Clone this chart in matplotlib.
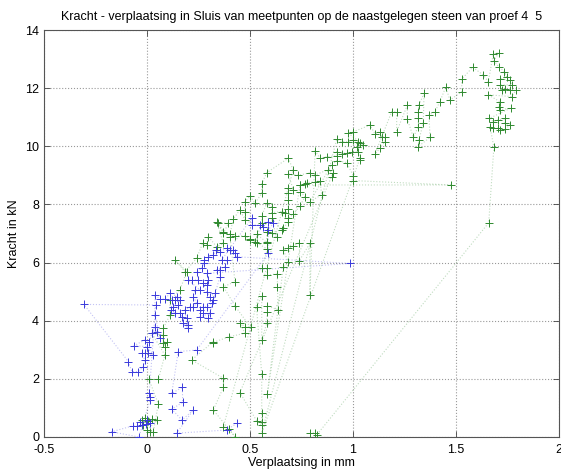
import matplotlib
matplotlib.use("Agg")
import matplotlib.pyplot as plt

# Green series (meetpunt 4) in measurement order: displacement (mm), force (kN)
green_x = [
    -0.018, -0.026, -0.01, 0.006, 0.023, 0.05, 0.0, 0.015, 0.031, 0.055, 0.01, 0.055, 0.087, 0.023, 0.079, 0.079, 0.095, 0.087,
    0.079, 0.112, 0.112, 0.16, 0.193, 0.136, 0.185, 0.241, 0.27, 0.29, 0.298, 0.338, 0.371, 0.338, 0.371, 0.395, 0.346, 0.371,
    0.403, 0.419, 0.451, 0.476, 0.476, 0.476, 0.5, 0.524, 0.557, 0.557, 0.581, 0.686, 0.710,
    0.371, 0.400, 0.427, 0.322, 0.371, 0.371, 0.217, 0.322, 0.319, 0.400, 0.476, 0.451, 0.476, 0.503, 0.427, 0.371, 0.427,
    0.403, 0.427, 0.476, 0.5, 0.5, 0.524, 0.557, 0.557, 0.581, 0.605, 0.605, 0.654, 0.670, 0.686, 0.686, 0.686, 0.686, 0.710,
    0.686, 0.735, 0.791, 0.816, 0.877, 0.905, 0.896,
    0.451, 0.532, 0.557, 0.557, 0.557, 0.557, 0.532, 0.557, 0.557, 0.581, 0.584, 0.584, 0.637, 0.633, 0.633, 0.584, 0.584,
    0.557, 0.584, 0.532, 0.532, 0.581, 0.581, 0.581, 0.605, 0.629, 0.605, 0.654, 0.662, 0.686, 0.686, 0.710, 0.743, 0.767,
    0.743, 0.743, 0.767, 0.775, 0.816, 0.840, 0.848, 0.791, 0.896, 0.921, 0.969, 1.002, 1.002, 1.474, 0.743,
    0.584, 0.662, 0.686, 0.662, 0.686, 0.710, 0.740, 0.740, 0.791, 0.791, 0.816, 0.840, 0.872, 0.921, 0.921, 0.945, 0.969,
    0.994, 1.026, 1.034, 1.034,
    0.557, 0.921, 0.945, 0.977, 1.002, 1.026, 1.018, 1.034, 1.050, 0.977, 1.002, 1.083, 1.107, 1.131, 1.139, 1.155, 1.155,
    1.131, 1.107, 1.188, 1.212, 1.212, 1.264, 1.264, 1.293, 1.317, 1.317, 1.317, 1.320, 1.345, 1.341, 1.320, 1.317, 1.374,
    1.369, 1.398, 1.422, 1.450, 1.471, 1.528, 1.528, 1.581, 1.633, 1.657, 1.681, 1.709, 1.684, 1.709, 1.735, 1.746, 1.714,
    1.762, 1.770, 1.712, 1.722, 1.738, 1.762, 1.791, 1.770, 1.657, 1.712, 1.709, 1.714, 1.765, 1.662, 1.681, 1.706, 1.738,
    1.738, 1.762, 1.738, 1.714, 1.706, 1.681, 1.665, 1.684, 1.659, 0.824, 0.816, 0.791,
]
green_y = [
    0.41, 0.58, 0.64, 0.56, 0.61, 0.58, 0.24, 0.18, 0.18, 1.14, 1.98, 1.98, 2.82, 3.57, 3.51, 3.22, 3.28, 3.11,
    3.74, 4.20, 4.71, 5.06, 5.69, 6.09, 5.69, 6.15, 6.66, 6.61, 6.89, 6.55, 6.66, 7.41, 7.01, 7.35, 7.37, 7.06,
    6.98, 7.50, 7.81, 7.47, 7.75, 8.10, 8.29, 8.04, 8.38, 8.70, 9.09, 9.59, 9.19,
    0.36, 0.26, 0.01, 0.93, 1.71, 2.02, 2.65, 3.28, 3.25, 3.45, 3.57, 3.91, 3.80, 3.77, 4.51, 5.17, 5.34,
    6.89, 6.92, 6.92, 6.80, 6.78, 6.72, 7.35, 7.60, 8.04, 7.92, 7.72, 7.75, 7.72, 7.84, 8.15, 8.38, 8.56, 8.50,
    9.05, 9.00, 9.09, 9.01, 9.19, 9.07, 8.96,
    1.53, 0.56, 0.41, 0.53, 0.84, 2.17, 4.46, 4.85, 3.34, 3.91, 4.31, 4.51, 4.37, 5.17, 5.61, 5.57, 5.80,
    5.80, 6.46, 6.69, 6.98, 6.69, 6.72, 7.06, 7.03, 6.89, 7.52, 7.12, 7.18, 7.41, 7.52, 7.66, 7.95, 8.27,
    8.44, 8.67, 8.70, 8.75, 8.78, 8.82, 8.33, 8.10, 9.36, 9.51, 9.44, 8.98, 8.82, 8.67, 8.67,
    1.48, 5.86, 6.01, 6.43, 6.49, 6.57, 6.69, 6.07, 6.66, 4.89, 9.85, 9.59, 9.64, 9.67, 9.82, 9.74, 9.78,
    9.79, 9.82, 9.53, 9.59,
    0.13, 10.24, 10.16, 10.16, 10.22, 10.16, 9.99, 10.10, 10.05, 10.45, 10.50, 10.73, 10.42, 10.50, 10.31, 10.33, 10.16,
    9.93, 9.74, 11.19, 11.19, 10.50, 11.42, 10.93, 10.31, 10.68, 10.96, 11.19, 11.42, 11.82, 10.79, 10.22, 9.99, 10.31,
    11.08, 11.19, 11.54, 12.03, 11.59, 11.88, 12.31, 12.72, 12.45, 12.22, 13.18, 13.22, 12.95, 12.72, 12.57, 12.40, 12.31,
    12.28, 12.11, 12.11, 11.94, 11.96, 11.94, 11.92, 11.71, 11.77, 11.54, 11.36, 11.25, 11.31, 10.96, 10.85, 10.91, 10.96,
    10.79, 10.73, 10.58, 10.56, 10.62, 10.62, 10.68, 9.97, 7.37, 0.07, 0.15, 0.13,
]

# Blue series (meetpunt 5)
blue_x = [
    -0.005, 0.015, 0.002, -0.034, -0.026, -0.047, -0.07, -0.172, -0.039, 0.015, 0.015, 0.011, 0.042, -0.306, -0.09, -0.074,
    -0.042, -0.018, -0.01, -0.026, -0.008, 0.006, 0.031, 0.0, -0.063, -0.01, 0.011, 0.023, 0.039, 0.047, 0.063, 0.039,
    0.039, 0.063, 0.087, 0.112, 0.12, 0.136, 0.144, 0.16, 0.152, 0.128, 0.115, 0.136, 0.16, 0.168, 0.193, 0.2, 0.176,
    0.2, 0.184, 0.209, 0.225, 0.241, 0.225, 0.233, 0.257, 0.2, 0.217, 0.249, 0.244, 0.265, 0.277, 0.277, 0.298, 0.322,
    0.335, 0.354, 0.387, 0.403, 0.419, 0.427, 0.435, 0.985, 0.29, 0.298, 0.29, 0.273, 0.29, 0.306, 0.33, 0.322, 0.314,
    0.29, 0.273, 0.257, 0.273, 0.306, 0.257, 0.298, 0.354, 0.354, 0.338, 0.379, 0.387, 0.362, 0.508, 0.508, 0.549,
    0.565, 0.589, 0.613, 0.589, 0.589, 0.241, 0.152, 0.12, 0.172, 0.173, 0.12, 0.17, 0.225, 0.144, 0.387, 0.435,
]
blue_y = [
    0.45, 0.49, 0.58, 0.53, 0.41, 0.38, 0.38, 0.18, 0.0, 1.27, 1.39, 1.50, 4.54, 4.56, 2.59, 2.25,
    2.25, 2.42, 2.65, 2.88, 2.88, 2.88, 2.82, 3.11, 3.14, 3.34, 3.28, 3.57, 3.80, 3.62, 3.39, 4.20,
    4.89, 4.74, 4.75, 4.94, 4.71, 4.71, 4.83, 4.71, 4.54, 4.48, 4.37, 4.25, 4.25, 4.14, 4.08, 3.85, 3.91,
    3.74, 4.37, 4.48, 4.48, 4.60, 4.83, 5.06, 5.06, 5.40, 5.40, 5.40, 5.69, 5.80, 5.97, 6.09, 6.20, 6.26,
    6.43, 6.38, 6.49, 6.43, 6.43, 6.32, 6.20, 5.97, 5.63, 5.40, 5.23, 5.29, 5.00, 4.83, 4.94, 4.71, 4.60,
    4.48, 4.48, 4.37, 4.25, 4.25, 4.14, 4.08, 5.52, 5.75, 5.75, 5.86, 6.09, 6.09, 7.52, 7.29, 7.29,
    7.24, 7.41, 7.35, 7.12, 6.32, 2.99, 2.94, 1.50, 1.71, 1.19, 0.96, 0.58, 0.93, 0.13, 0.24, 0.47,
]

x_ticks = [-0.5, 0, 0.5, 1, 1.5, 2]
x_tick_labels = ["-0.5", "0", "0.5", "1", "1.5", "2"]
y_ticks = [0, 2, 4, 6, 8, 10, 12, 14]

plt.rcParams['font.family'] = ['Liberation Sans', 'DejaVu Sans']

fig = plt.figure(figsize=(5.61, 4.71), dpi=100)
ax = fig.add_axes([0.0784, 0.0722, 0.9180, 0.8641])

green = '#2f8a2f'
blue = '#3a3adb'

# dotted connecting lines underneath all markers
ax.plot(green_x, green_y, linestyle=':', color=green, alpha=0.3, linewidth=0.8, zorder=2)
ax.plot(blue_x, blue_y, linestyle=':', color=blue, alpha=0.3, linewidth=0.8, zorder=2)
ax.plot(green_x, green_y, linestyle='none', marker='+', color=green, markersize=5.5, markeredgewidth=0.7, zorder=3)
ax.plot(blue_x, blue_y, linestyle='none', marker='+', color=blue, markersize=5.5, markeredgewidth=0.7, zorder=4)

ax.set_xlim(-0.5, 2)
ax.set_ylim(0, 14)
ax.set_xticks(x_ticks)
ax.set_xticklabels(x_tick_labels)
ax.set_yticks(y_ticks)
ax.grid(True, linestyle=':', color='#999999', linewidth=0.8)
ax.set_axisbelow(True)
ax.tick_params(direction='in', length=4, width=0.6, labelsize=9, top=True, right=True, colors='#444444', labelcolor='black')
ax.tick_params(axis='x', pad=5)
for s in ax.spines.values():
    s.set_color('#555555')
    s.set_linewidth(0.8)

ax.set_title("Kracht - verplaatsing in Sluis van meetpunten op de naastgelegen steen van proef 4  5", fontsize=9, pad=7)
ax.set_xlabel("Verplaatsing in mm", fontsize=9, labelpad=1)
ax.set_ylabel("Kracht in kN", fontsize=9, labelpad=4)

fig.savefig("out.png", dpi=100)
